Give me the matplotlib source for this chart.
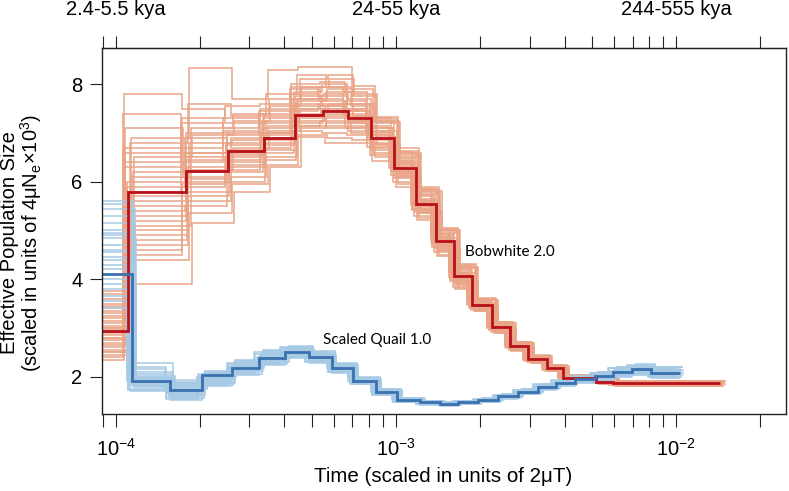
import numpy as np
import matplotlib
matplotlib.use("Agg")
import matplotlib.pyplot as plt
from matplotlib.ticker import LogLocator, NullFormatter, FixedLocator

plt.rcParams['font.family'] = ['Liberation Sans', 'DejaVu Sans']
plt.rcParams['mathtext.fontset'] = 'custom'
plt.rcParams['mathtext.rm'] = 'Liberation Sans'
plt.rcParams['mathtext.it'] = 'Liberation Sans:italic'

# ---- Bobwhite 2.0 (red) : step edges in 2uT units and Ne levels ----
red_edges = [5e-5, 1.104e-4, 1.778e-4, 2.52e-4, 3.38e-4, 4.36e-4, 5.51e-4, 6.76e-4,
             8.15e-4, 9.87e-4, 1.175e-3, 1.386e-3, 1.615e-3, 1.875e-3, 2.21e-3,
             2.55e-3, 2.97e-3, 3.45e-3, 3.95e-3, 5.2e-3, 5.96e-3, 1.44e-2]
red_main = [2.94, 5.80, 6.23, 6.63, 6.90, 7.36, 7.45, 7.31, 6.90, 6.29, 5.55,
            4.79, 4.07, 3.48, 3.01, 2.62, 2.36, 2.17, 1.98, 1.90, 1.86]
red_boot = [
    [2.35, 4.5, 5.9, 6.5, 7.0, 7.5, 7.55, 7.25, 6.85, 6.22, 5.45, 4.70, 4.00, 3.45, 2.98, 2.60, 2.35, 2.16, 1.97, 1.89, 1.85],
    [2.55, 5.0, 6.3, 6.9, 7.25, 7.7, 7.85, 7.55, 7.05, 6.38, 5.62, 4.85, 4.12, 3.52, 3.04, 2.65, 2.38, 2.19, 2.00, 1.91, 1.87],
    [2.7, 5.4, 5.5, 6.2, 6.6, 7.05, 7.0, 6.95, 6.55, 6.0, 5.30, 4.55, 3.85, 3.37, 2.92, 2.55, 2.30, 2.12, 1.94, 1.86, 1.82],
    [2.8, 6.2, 7.1, 7.4, 7.7, 8.1, 8.2, 7.75, 7.25, 6.55, 5.80, 4.98, 4.25, 3.58, 3.10, 2.70, 2.42, 2.22, 2.03, 1.95, 1.91],
    [2.9, 5.8, 6.7, 7.05, 7.4, 7.8, 7.95, 7.65, 7.15, 6.45, 5.70, 4.92, 4.18, 3.55, 3.07, 2.68, 2.40, 2.21, 2.01, 1.93, 1.89],
    [3.0, 4.8, 5.7, 6.0, 6.45, 6.92, 6.8, 6.8, 6.42, 5.9, 5.22, 4.48, 3.80, 3.34, 2.89, 2.53, 2.29, 2.11, 1.93, 1.85, 1.81],
    [3.1, 6.6, 6.1, 6.75, 6.9, 7.35, 7.45, 7.35, 6.95, 6.3, 5.55, 4.80, 4.08, 3.49, 3.02, 2.63, 2.37, 2.17, 1.98, 1.90, 1.86],
    [3.2, 6.9, 8.33, 7.7, 8.3, 8.36, 8.36, 7.97, 7.33, 6.69, 5.90, 5.05, 4.31, 3.61, 3.13, 2.72, 2.44, 2.24, 2.04, 1.96, 1.92],
    [3.35, 5.2, 6.5, 6.35, 6.75, 7.2, 7.3, 7.05, 6.65, 6.08, 5.38, 4.62, 3.92, 3.40, 2.94, 2.57, 2.32, 2.14, 1.95, 1.87, 1.83],
    [3.5, 7.8, 7.5, 7.2, 7.5, 7.95, 7.65, 7.45, 6.95, 6.35, 5.58, 4.82, 4.10, 3.50, 3.03, 2.64, 2.37, 2.18, 1.99, 1.90, 1.86],
    [3.75, 3.9, 5.15, 5.8, 6.3, 7.15, 7.15, 7.15, 6.75, 6.15, 5.40, 4.65, 3.95, 3.42, 2.96, 2.58, 2.33, 2.15, 1.96, 1.88, 1.84],
    [2.45, 6.0, 6.9, 6.6, 7.1, 7.6, 7.75, 7.5, 7.1, 6.42, 5.65, 4.88, 4.15, 3.54, 3.06, 2.66, 2.39, 2.20, 2.00, 1.92, 1.88],
    [2.65, 4.7, 5.8, 6.1, 6.5, 7.3, 7.1, 7.0, 6.6, 6.12, 5.35, 4.58, 3.88, 3.38, 2.93, 2.56, 2.31, 2.13, 1.95, 1.86, 1.83],
    [2.85, 7.4, 6.4, 7.3, 7.0, 7.45, 7.6, 7.4, 7.0, 6.28, 5.52, 4.76, 4.05, 3.47, 3.00, 2.61, 2.35, 2.16, 1.97, 1.89, 1.85],
    [3.05, 5.5, 6.0, 6.55, 6.8, 7.55, 7.4, 7.2, 6.8, 6.2, 5.48, 4.72, 4.02, 3.46, 2.99, 2.60, 2.34, 2.16, 1.97, 1.89, 1.85],
    [3.25, 6.1, 6.8, 6.85, 7.15, 7.65, 7.9, 7.6, 7.2, 6.5, 5.75, 4.95, 4.22, 3.57, 3.09, 2.69, 2.41, 2.22, 2.02, 1.94, 1.90],
    [2.6, 6.4, 6.2, 6.45, 6.95, 7.4, 7.5, 7.3, 6.9, 6.25, 5.50, 4.74, 4.03, 3.46, 3.00, 2.61, 2.35, 2.16, 1.97, 1.89, 1.85],
    [3.4, 5.6, 7.0, 6.95, 7.35, 7.75, 7.8, 7.7, 7.25, 6.6, 5.85, 5.00, 4.28, 3.59, 3.11, 2.71, 2.43, 2.23, 2.03, 1.95, 1.91],
    [2.5, 5.3, 6.05, 6.4, 6.85, 7.25, 7.35, 7.2, 6.78, 6.18, 5.44, 4.69, 3.98, 3.43, 2.97, 2.59, 2.34, 2.15, 1.96, 1.88, 1.84],
    [3.15, 6.3, 7.3, 7.55, 7.6, 8.0, 8.05, 7.85, 7.3, 6.62, 5.84, 5.02, 4.27, 3.60, 3.12, 2.71, 2.43, 2.23, 2.03, 1.95, 1.91],
    [2.75, 4.4, 5.35, 5.95, 6.35, 6.95, 6.9, 6.85, 6.5, 5.95, 5.25, 4.50, 3.82, 3.35, 2.90, 2.54, 2.29, 2.11, 1.93, 1.85, 1.81],
    [3.6, 5.9, 6.6, 7.0, 7.3, 7.85, 8.0, 7.6, 7.1, 6.48, 5.72, 4.93, 4.20, 3.56, 3.08, 2.68, 2.41, 2.21, 2.02, 1.94, 1.90],
    [2.95, 5.1, 6.25, 6.7, 7.05, 7.5, 7.6, 7.35, 6.92, 6.3, 5.56, 4.79, 4.07, 3.48, 3.01, 2.62, 2.36, 2.17, 1.98, 1.90, 1.86],
    [2.4, 6.7, 7.2, 7.1, 7.45, 7.9, 7.7, 7.5, 7.05, 6.4, 5.63, 4.86, 4.13, 3.53, 3.05, 2.66, 2.39, 2.19, 2.00, 1.92, 1.88],
    [3.3, 4.9, 5.6, 6.3, 6.65, 7.1, 7.2, 7.1, 6.7, 6.1, 5.36, 4.60, 3.90, 3.39, 2.93, 2.56, 2.31, 2.13, 1.94, 1.86, 1.82],
    [3.45, 7.1, 6.6, 6.8, 7.2, 7.7, 7.55, 7.45, 7.02, 6.36, 5.6, 4.83, 4.11, 3.51, 3.04, 2.65, 2.38, 2.18, 1.99, 1.91, 1.87],
    [2.5, 5.7, 6.45, 6.65, 7.0, 7.35, 7.5, 7.25, 6.88, 6.26, 5.53, 4.77, 4.06, 3.47, 3.00, 2.62, 2.36, 2.17, 1.98, 1.89, 1.85],
    [3.0, 6.5, 6.95, 7.25, 7.55, 7.95, 8.1, 7.8, 7.22, 6.58, 5.82, 5.01, 4.26, 3.58, 3.10, 2.70, 2.42, 2.22, 2.03, 1.95, 1.91],
    [2.8, 4.6, 5.95, 6.25, 6.7, 7.15, 7.25, 7.1, 6.72, 6.14, 5.42, 4.66, 3.96, 3.41, 2.95, 2.58, 2.32, 2.14, 1.95, 1.87, 1.83],
    [3.7, 6.8, 7.6, 7.35, 7.8, 8.2, 7.95, 7.9, 7.28, 6.64, 5.86, 5.03, 4.29, 3.60, 3.12, 2.71, 2.43, 2.23, 2.04, 1.96, 1.92],
]
# per-replicate time scaling of the bootstrap runs
red_boot_tscale = [0.97, 1.02, 0.99, 1.04, 0.96, 1.01, 0.98, 1.03, 1.00, 0.97,
                   1.05, 0.99, 1.02, 0.96, 1.01, 1.03, 0.98, 1.00, 1.01, 0.97,
                   1.03, 0.99, 1.04, 0.96, 1.02, 0.98, 1.00, 1.05, 0.97, 1.02]

# ---- Scaled Quail 1.0 (blue) ----
blue_edges = [5e-5, 1.14e-4, 1.56e-4, 2.03e-4, 2.59e-4, 3.25e-4, 4.02e-4, 4.90e-4,
              5.90e-4, 7.05e-4, 8.50e-4, 1.01e-3, 1.22e-3, 1.44e-3, 1.67e-3,
              1.97e-3, 2.32e-3, 2.73e-3, 3.22e-3, 3.74e-3, 4.35e-3, 5.13e-3,
              5.96e-3, 6.98e-3, 8.16e-3, 1.03e-2]
blue_main = [4.10, 1.91, 1.73, 2.03, 2.18, 2.38, 2.50, 2.41, 2.18, 1.92, 1.69,
             1.52, 1.47, 1.44, 1.47, 1.52, 1.60, 1.69, 1.79, 1.88, 1.95, 2.01,
             2.10, 2.15, 2.08]
blue_boot = [
    [4.3, 1.95, 1.80, 1.95, 2.20, 2.40, 2.52, 2.43, 2.20, 1.94, 1.71, 1.54, 1.48, 1.45, 1.48, 1.53, 1.61, 1.70, 1.80, 1.90, 1.97, 2.04, 2.13, 2.18, 2.12],
    [5.0, 1.85, 1.65, 1.90, 2.10, 2.32, 2.45, 2.36, 2.13, 1.88, 1.66, 1.50, 1.45, 1.42, 1.45, 1.50, 1.58, 1.67, 1.77, 1.85, 1.92, 1.98, 2.06, 2.10, 2.03],
    [3.4, 2.28, 1.93, 2.10, 2.34, 2.55, 2.63, 2.53, 2.28, 1.99, 1.75, 1.57, 1.51, 1.47, 1.50, 1.56, 1.64, 1.74, 1.85, 1.94, 2.02, 2.09, 2.19, 2.24, 2.19],
    [4.6, 1.75, 1.55, 1.82, 2.05, 2.26, 2.40, 2.30, 2.09, 1.85, 1.63, 1.48, 1.43, 1.41, 1.44, 1.49, 1.56, 1.65, 1.74, 1.82, 1.89, 1.94, 2.02, 2.06, 1.99],
    [5.6, 2.00, 1.85, 2.05, 2.25, 2.45, 2.57, 2.48, 2.24, 1.96, 1.73, 1.55, 1.50, 1.46, 1.49, 1.54, 1.62, 1.72, 1.83, 1.92, 2.00, 2.07, 2.16, 2.22, 2.16],
    [4.45, 1.70, 1.60, 1.88, 2.12, 2.30, 2.42, 2.34, 2.12, 1.87, 1.65, 1.49, 1.44, 1.41, 1.44, 1.49, 1.57, 1.66, 1.76, 1.84, 1.91, 1.96, 2.04, 2.08, 2.00],
    [4.85, 1.90, 1.75, 2.00, 2.18, 2.38, 2.50, 2.41, 2.18, 1.92, 1.69, 1.52, 1.47, 1.44, 1.47, 1.52, 1.60, 1.69, 1.79, 1.88, 1.95, 2.01, 2.10, 2.15, 2.08],
    [3.8, 2.15, 1.70, 1.98, 2.28, 2.50, 2.60, 2.50, 2.26, 1.97, 1.74, 1.56, 1.50, 1.47, 1.50, 1.55, 1.63, 1.73, 1.84, 1.93, 2.01, 2.08, 2.18, 2.23, 2.18],
    [5.3, 1.80, 1.52, 1.80, 2.03, 2.24, 2.38, 2.28, 2.08, 1.84, 1.62, 1.47, 1.42, 1.40, 1.43, 1.48, 1.55, 1.64, 1.73, 1.81, 1.87, 1.92, 2.00, 2.04, 1.98],
    [4.2, 2.05, 1.88, 2.08, 2.30, 2.48, 2.58, 2.46, 2.22, 1.95, 1.72, 1.55, 1.49, 1.46, 1.49, 1.54, 1.62, 1.71, 1.82, 1.91, 1.99, 2.06, 2.15, 2.20, 2.14],
    [4.95, 1.88, 1.68, 1.93, 2.15, 2.35, 2.47, 2.38, 2.16, 1.90, 1.68, 1.51, 1.46, 1.43, 1.46, 1.51, 1.59, 1.68, 1.78, 1.87, 1.94, 2.00, 2.09, 2.13, 2.06],
    [3.55, 1.98, 1.78, 2.02, 2.22, 2.42, 2.54, 2.44, 2.20, 1.93, 1.70, 1.53, 1.48, 1.45, 1.48, 1.53, 1.61, 1.70, 1.81, 1.89, 1.96, 2.03, 2.12, 2.17, 2.10],
    [4.7, 1.72, 1.58, 1.85, 2.08, 2.28, 2.43, 2.32, 2.10, 1.86, 1.64, 1.49, 1.44, 1.42, 1.45, 1.50, 1.57, 1.66, 1.75, 1.83, 1.90, 1.95, 2.03, 2.07, 2.01],
    [5.45, 2.10, 1.90, 2.12, 2.32, 2.52, 2.61, 2.51, 2.27, 1.98, 1.75, 1.57, 1.51, 1.47, 1.51, 1.56, 1.64, 1.74, 1.85, 1.94, 2.02, 2.10, 2.20, 2.25, 2.20],
    [4.0, 1.93, 1.72, 1.97, 2.19, 2.39, 2.51, 2.42, 2.19, 1.93, 1.70, 1.53, 1.47, 1.44, 1.47, 1.52, 1.60, 1.69, 1.79, 1.88, 1.95, 2.02, 2.11, 2.16, 2.09],
    [5.15, 1.82, 1.62, 1.86, 2.11, 2.31, 2.44, 2.35, 2.14, 1.89, 1.67, 1.50, 1.45, 1.43, 1.46, 1.51, 1.58, 1.67, 1.77, 1.86, 1.93, 1.99, 2.07, 2.11, 2.04],
    [3.65, 2.20, 1.83, 2.06, 2.27, 2.47, 2.59, 2.49, 2.25, 1.96, 1.73, 1.56, 1.50, 1.46, 1.50, 1.55, 1.63, 1.72, 1.83, 1.92, 2.00, 2.08, 2.17, 2.22, 2.17],
    [4.55, 1.78, 1.56, 1.84, 2.06, 2.27, 2.41, 2.31, 2.10, 1.86, 1.64, 1.48, 1.43, 1.41, 1.44, 1.49, 1.56, 1.65, 1.75, 1.83, 1.90, 1.95, 2.03, 2.07, 2.00],
    [4.9, 1.96, 1.76, 2.01, 2.21, 2.41, 2.53, 2.44, 2.21, 1.94, 1.71, 1.54, 1.48, 1.45, 1.48, 1.53, 1.61, 1.70, 1.80, 1.89, 1.96, 2.03, 2.12, 2.17, 2.11],
    [3.9, 2.02, 1.86, 2.07, 2.26, 2.46, 2.56, 2.47, 2.23, 1.95, 1.72, 1.55, 1.49, 1.46, 1.49, 1.54, 1.62, 1.71, 1.81, 1.90, 1.98, 2.05, 2.14, 2.19, 2.13],
    [5.55, 1.86, 1.66, 1.91, 2.13, 2.33, 2.46, 2.37, 2.15, 1.89, 1.67, 1.51, 1.46, 1.42, 1.45, 1.50, 1.58, 1.67, 1.77, 1.86, 1.93, 1.99, 2.08, 2.12, 2.05],
    [4.4, 1.92, 1.74, 1.99, 2.17, 2.37, 2.49, 2.40, 2.17, 1.91, 1.69, 1.52, 1.47, 1.44, 1.47, 1.52, 1.60, 1.69, 1.79, 1.88, 1.95, 2.01, 2.10, 2.14, 2.07],
]
blue_boot_tscale = [1.02, 0.98, 1.03, 0.97, 1.01, 0.99, 1.04, 0.96, 1.00, 1.02, 0.98,
                    1.01, 0.97, 1.03, 0.99, 1.03, 0.97, 1.02, 0.98, 1.04, 1.00, 0.96]

top_tick_pos = [1e-4, 1e-3, 1e-2]
top_tick_labels = ["2.4-5.5 kya", "24-55 kya", "244-555 kya"]

RED_LIGHT = "#E9A587"
RED_DARK = "#B8111B"
BLUE_LIGHT = "#A6C9E4"
BLUE_DARK = "#3A71B0"

fig = plt.figure(figsize=(7.89, 4.91), dpi=100)
ax = fig.add_axes([102 / 789, 1 - 414 / 491, (786 - 102) / 789, (414 - 47.7) / 491])

for row, s in zip(red_boot, red_boot_tscale):
    ax.stairs(row, np.array(red_edges) * s, baseline=None, color=RED_LIGHT, lw=1.1)
for row, s in zip(blue_boot, blue_boot_tscale):
    ax.stairs(row, np.array(blue_edges) * s, baseline=None, color=BLUE_LIGHT, lw=1.1)
ax.stairs(red_main, red_edges, baseline=None, color=RED_DARK, lw=2.0)
ax.stairs(blue_main, blue_edges, baseline=None, color=BLUE_DARK, lw=2.0)

ax.text(1.76e-3, 4.565, "Bobwhite 2.0", family="Lato", fontsize=11, va="center")
ax.text(5.5e-4, 2.75, "Scaled Quail 1.0", family="Lato", fontsize=11, va="center")

ax.set_xscale("log")
ax.set_xlim(8.93e-5, 2.47e-2)
ax.set_ylim(1.234, 8.751)

tick_kw = dict(direction="out", length=9, width=0.8, color="#222222")
ax.xaxis.set_major_locator(FixedLocator([1e-4, 1e-3, 1e-2]))
ax.xaxis.set_minor_locator(LogLocator(base=10, subs=np.arange(2, 10)))
ax.xaxis.set_minor_formatter(NullFormatter())
ax.tick_params(axis="x", which="both", labelsize=14.5, pad=8, **tick_kw)
ax.set_yticks([2, 4, 6, 8])
ax.tick_params(axis="y", labelsize=14.5, pad=5, **tick_kw)

top = ax.secondary_xaxis("top", functions=(lambda x: x, lambda x: x))
top.set_xscale("log")
top.xaxis.set_major_locator(FixedLocator(top_tick_pos))
top.xaxis.set_minor_locator(LogLocator(base=10, subs=np.arange(2, 10)))
top.xaxis.set_minor_formatter(NullFormatter())
top.set_xticks(top_tick_pos, top_tick_labels)
top.tick_params(axis="x", which="both", labelsize=14.5, pad=12, **tick_kw)

for sp in ax.spines.values():
    sp.set_linewidth(1.0)
    sp.set_color("#222222")

fig.text(443 / 789, 1 - 476 / 491, "Time (scaled in units of 2μT)",
         fontsize=14.8, ha="center", va="center")
# two-line y label as one text block
fig.text(22 / 789, 0.505,
         "Effective Population Size\n"
         r"(scaled in units of 4μN$_\mathregular{e}$×10$^\mathregular{3}$)",
         fontsize=14.5, rotation=90, ha="center", va="center",
         multialignment="center", linespacing=0.95)

fig.savefig("out.png", dpi=100)
